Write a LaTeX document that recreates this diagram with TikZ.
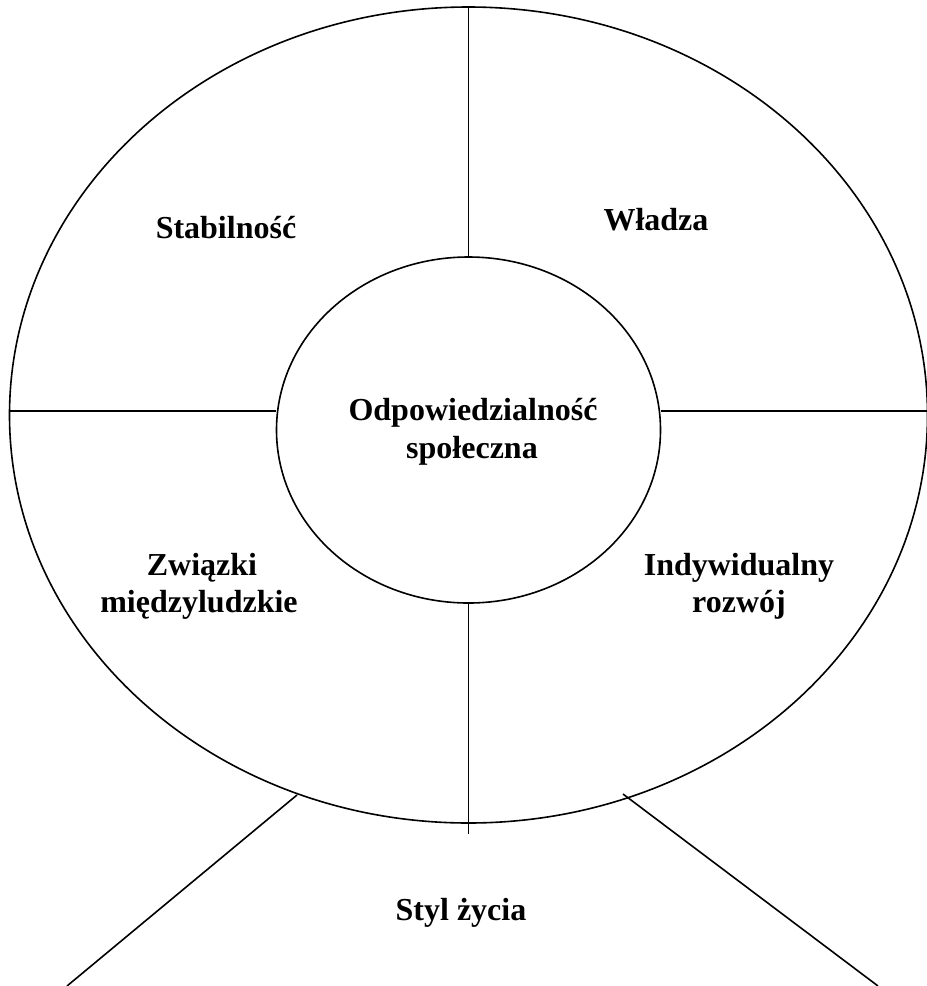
\documentclass[tikz,border=0pt]{standalone}
\usepackage{fontspec}
\setmainfont{Liberation Serif}
\usetikzlibrary{shapes.geometric}
\begin{document}
\begin{tikzpicture}[x=1pt,y=-1pt,line width=1.6pt,
  ring/.style={draw,ellipse,inner sep=0pt},
  lbl/.style={anchor=base,inner sep=0pt,font=\fontsize{32}{37.5}\selectfont\bfseries}]
\useasboundingbox (0,0) rectangle (927,986);
\node[ring,minimum width=918pt,minimum height=816pt] (outer) at (468.5,415) {};
\node[ring,minimum width=384pt,minimum height=346pt] (inner) at (468.5,430) {};
\coordinate (hy) at (0,411);
\coordinate (vbot) at (468.5,834);
\coordinate (dl1) at (297,795);
\coordinate (dl2) at (67,986);
\coordinate (dr1) at (623,794);
\coordinate (dr2) at (878,986);
\draw (outer.north) -- (inner.north);
\draw (inner.south) -- (vbot);
\draw (outer.west |- hy) -- (inner.west |- hy);
\draw (inner.east |- hy) -- (outer.east |- hy);
\draw (dl1) -- (dl2);
\draw (dr1) -- (dr2);
\node[lbl] (stab) at (226,238) {Stabilność};
\node[lbl] (wladza) at (656,230) {Władza};
\node[lbl] (odp1) at (473,420) {Odpowiedzialność};
\node[lbl] (odp2) at (472,458) {społeczna};
\node[lbl] (zw1) at (202,575) {Związki};
\node[lbl] (zw2) at (199,612) {międzyludzkie};
\node[lbl] (ind1) at (739,575) {Indywidualny};
\node[lbl] (ind2) at (739,612) {rozwój};
\node[lbl] (styl) at (461,920) {Styl życia};
\end{tikzpicture}
\end{document}
